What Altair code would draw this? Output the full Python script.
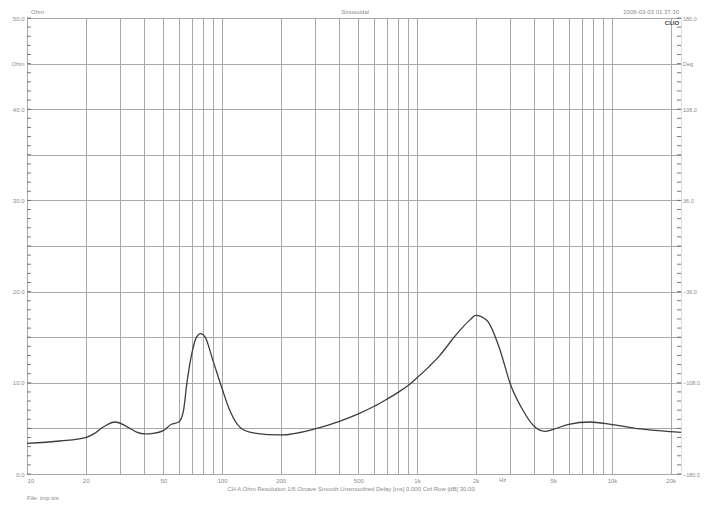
import altair as alt
import pandas as pd

# Impedance curve (frequency in Hz, impedance in Ohm)
freq = [10, 14.8, 20, 22, 24.6, 28.3, 32.5, 36.5, 40, 44.4, 50, 55, 60, 63.4, 66,
        70, 74, 77.8, 82, 90, 100, 110, 124, 145, 200, 300, 400, 500, 600, 700,
        800, 900, 1000, 1150, 1310, 1450, 1550, 1700, 1870, 2000, 2280, 2670, 3000,
        3500, 4000, 4530, 5000, 6000, 7700, 10000, 13900, 20000, 22590]
ohm = [3.36, 3.62, 4.0, 4.4, 5.15, 5.7, 5.2, 4.6, 4.4, 4.46, 4.76, 5.45, 5.7, 6.9, 9.9,
       13.2, 15.0, 15.4, 15.0, 12.4, 9.4, 6.9, 5.1, 4.5, 4.28, 4.95, 5.78, 6.6, 7.4, 8.2,
       8.95, 9.7, 10.55, 11.75, 13.0, 14.2, 15.0, 16.0, 16.9, 17.4, 16.85, 13.55, 9.96,
       6.96, 5.2, 4.68, 4.9, 5.45, 5.7, 5.42, 4.95, 4.65, 4.57]

grid_freqs = ([10, 20, 30, 40, 50, 60, 70, 80, 90,
               100, 200, 300, 400, 500, 600, 700, 800, 900,
               1000, 2000, 3000, 4000, 5000, 6000, 7000, 8000, 9000,
               10000, 20000])
x_labels = [10, 20, 50, 100, 200, 500, 1000, 2000, 5000, 10000, 20000]
y_grid = [0, 5, 10, 15, 20, 25, 30, 35, 40, 45, 50]
minor_ticks = list(range(0, 51))

header_left = "Ohm"
header_mid = "Sinusoidal"
header_right = "2006-03-03 01.37.30"
brand = "CLIO"
footer = "CH A   Ohm   Resolution 1/6 Octave   Smooth Unsmoothed   Delay [ms] 0.000   Ctrl Row [dB] 30.00"
file_label = "File: imp.sis"

FONT = "Liberation Sans"
LBL = "#8a8a8a"
GRID = "#a8a8a8"
FRAME = "#5a5a5a"

curve_df = pd.DataFrame({"f": freq, "ohm": ohm})
ticks_df = pd.DataFrame({"v": minor_ticks})

xscale = alt.Scale(type="log", domain=[10, 22590], nice=False)
yscale = alt.Scale(domain=[0, 50], nice=False, zero=True)

x_label_list = ",".join(str(v) for v in x_labels)
x_axis = alt.Axis(
    values=grid_freqs, grid=True, gridColor=GRID, gridWidth=1, ticks=False,
    domain=False, labelOverlap=False, labelFontSize=6, labelColor=LBL, labelFont=FONT,
    labelPadding=3, title=None,
    labelExpr=f"indexof([{x_label_list}], datum.value) >= 0 ? (datum.value >= 1000 ? (datum.value/1000) + 'k' : datum.value + '') : ''",
)

y_axis_left = alt.Axis(
    values=y_grid, grid=True, gridColor=GRID, gridWidth=1, ticks=False, domain=False,
    labelFontSize=6, labelColor=LBL, labelFont=FONT, labelPadding=3, title=None,
    labelOverlap=False,
    labelExpr="datum.value == 45 ? 'Ohm' : (datum.value % 10 == 0 ? format(datum.value, '.1f') : '')",
)
y_axis_right = alt.Axis(
    orient="right", values=y_grid, grid=False, ticks=False, domain=False,
    labelFontSize=5.5, labelColor=LBL, labelFont=FONT, labelPadding=1.5, title=None,
    labelOverlap=False,
    labelExpr="datum.value == 45 ? 'Deg' : (datum.value % 10 == 0 ? format(datum.value * 7.2 - 180, '.1f') : '')",
)

curve = alt.Chart(curve_df).mark_line(
    color="#3c3c3c", strokeWidth=1.3, interpolate="monotone"
).encode(
    x=alt.X("f:Q", scale=xscale, axis=x_axis),
    y=alt.Y("ohm:Q", scale=yscale, axis=y_axis_left),
)

left_ticks = alt.Chart(ticks_df).mark_rule(color=FRAME, strokeWidth=0.8).encode(
    y=alt.Y("v:Q", scale=yscale, axis=None),
    x=alt.value(0), x2=alt.value(4),
)

right_ticks = alt.Chart(ticks_df).mark_rule(color=FRAME, strokeWidth=0.8).encode(
    y=alt.Y("v:Q", scale=yscale, axis=y_axis_right),
    x=alt.value(650), x2=alt.value(654),
)

def txt(s, x, y, align="left", size=6, weight="normal", color=LBL, baseline="middle"):
    return alt.Chart(pd.DataFrame({"t": [s]})).mark_text(
        align=align, baseline=baseline, fontSize=size, font=FONT,
        fontWeight=weight, color=color
    ).encode(text="t:N", x=alt.value(x), y=alt.value(y))

hz = alt.Chart(pd.DataFrame({"f": [2750], "t": ["Hz"]})).mark_text(
    align="center", baseline="top", fontSize=6, font=FONT, color=LBL
).encode(x=alt.X("f:Q", scale=xscale), text="t:N", y=alt.value(459))

chart = alt.layer(
    curve, left_ticks, right_ticks,
    txt(header_left, 4, -9.5, baseline="top"),
    txt(header_mid, 328, -9.5, align="center", baseline="top"),
    txt(header_right, 652, -9.5, align="right", baseline="top"),
    txt(brand, 645, 5, align="center", size=6, weight="bold", color="#404040"),
    txt(footer, 324, 471, align="center"),
    txt(file_label, 0, 480),
    hz,
).resolve_scale(y="independent").properties(
    width=654, height=456,
    autosize=alt.AutoSizeParams(type="none"),
    padding={"left": 19, "top": 10, "right": 19, "bottom": 28},
).configure_view(
    stroke=FRAME, strokeWidth=1.5
).configure(background="white")

chart.save("out.html", embed_options={"renderer": "svg", "actions": False})
